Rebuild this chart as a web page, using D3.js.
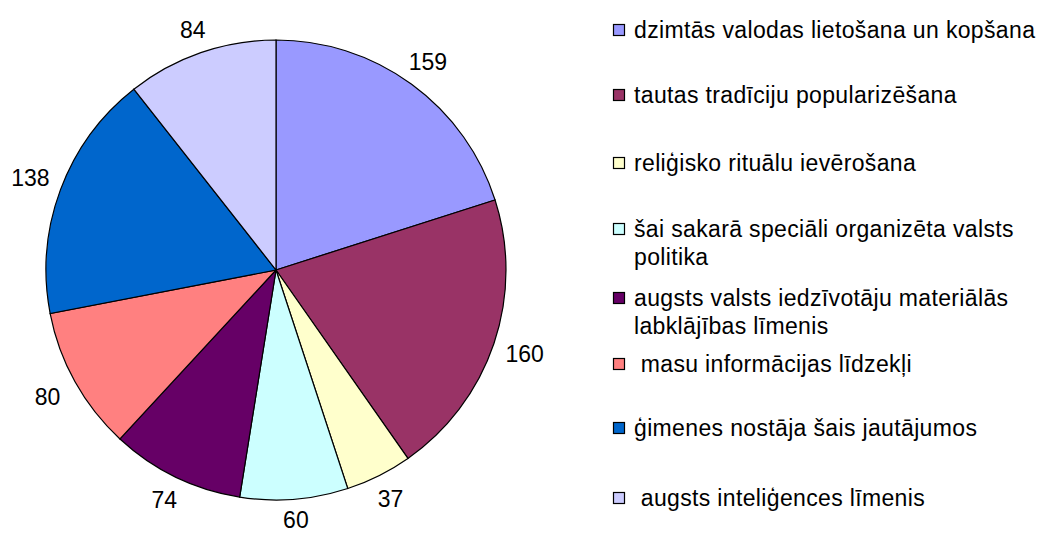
<!DOCTYPE html>
<html>
<head>
<meta charset="utf-8">
<script src="https://cdn.jsdelivr.net/npm/d3@7"></script>
<style>
  body { margin: 0; background: #fff; }
  text { font-family: "Liberation Sans", Arial, sans-serif; fill: #000; }
</style>
</head>
<body>
<script>
// data
var labels = [
  ['dzimtās valodas lietošana un kopšana'],
  ['tautas tradīciju popularizēšana'],
  ['reliģisko rituālu ievērošana'],
  ['šai sakarā speciāli organizēta valsts', 'politika'],
  ['augsts valsts iedzīvotāju materiālās', 'labklājības līmenis'],
  [' masu informācijas līdzekļi'],
  ['ģimenes nostāja šais jautājumos'],
  [' augsts inteliģences līmenis']
];
var values = [159, 160, 37, 60, 74, 80, 138, 84];
var colors = ['#9999FF', '#993366', '#FFFFCC', '#CCFFFF', '#660066', '#FF8080', '#0066CC', '#CCCCFF'];

var w = 1041, h = 533;
var cx = 276, cy = 270, r = 230;
var fontSize = 23;

var svg = d3.select('body').append('svg')
            .attr('width', w)
            .attr('height', h);

var pie = d3.pie().sort(null).value(function(d) { return d; });
var arc = d3.arc().innerRadius(0).outerRadius(r);

var g = svg.append('g')
           .attr('transform', 'translate(' + cx + ',' + cy + ')');

var arcs = pie(values);

g.selectAll('path')
 .data(arcs)
 .enter()
 .append('path')
 .attr('d', arc)
 .attr('fill', function(d, i) { return colors[i]; })
 .attr('stroke', '#000')
 .attr('stroke-width', 1.2);

// value labels, pushed out a bit more on the sides than top/bottom
g.selectAll('.val')
 .data(arcs)
 .enter()
 .append('text')
 .attr('class', 'val')
 .attr('transform', function(d) {
   var a = (d.startAngle + d.endAngle) / 2;
   var dist = r + 20 + 13 * Math.abs(Math.sin(a));
   return 'translate(' + (dist * Math.sin(a)) + ',' + (-dist * Math.cos(a)) + ')';
 })
 .attr('text-anchor', 'middle')
 .attr('dy', '0.35em')
 .style('font-size', fontSize + 'px')
 .text(function(d) { return d.data; });

// legend rows (centre y of each marker)
var legendY = [30, 95, 163, 229, 298, 364, 428, 498];

var items = svg.append('g')
               .selectAll('g')
               .data(labels)
               .enter()
               .append('g')
               .attr('transform', function(d, i) { return 'translate(613,' + legendY[i] + ')'; });

items.append('rect')
     .attr('x', 0.5)
     .attr('y', -5.5)
     .attr('width', 11)
     .attr('height', 11)
     .attr('fill', function(d, i) { return colors[i]; })
     .attr('stroke', '#000')
     .attr('stroke-width', 1.2);

items.append('text')
     .attr('y', 8)
     .style('font-size', fontSize + 'px')
     .style('letter-spacing', '0.35px')
     .style('white-space', 'pre')
     .selectAll('tspan')
     .data(function(d) { return d; })
     .enter()
     .append('tspan')
     .attr('x', 21)
     .attr('dy', function(d, i) { return i === 0 ? 0 : 28; })
     .text(function(d) { return d; });
</script>
</body>
</html>
